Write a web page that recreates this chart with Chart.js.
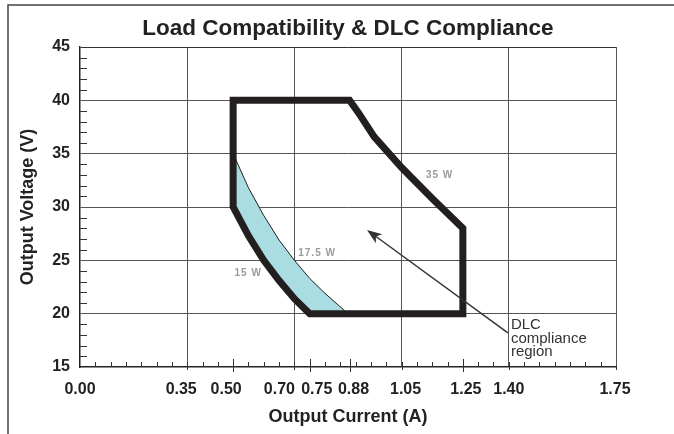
<!DOCTYPE html>
<html>
<head>
<meta charset="utf-8">
<script src="https://cdn.jsdelivr.net/npm/chart.js@4"></script>
<style>
  html, body { margin: 0; padding: 0; background: #fff; }
  canvas { display: block; }
</style>
</head>
<body>
<canvas id="loadChart" width="674" height="434"></canvas>
<script>
// operating window of the driver (thick outline), current in A / voltage in V
const envelopeCurrent = [0.70, 0.88, 0.91, 0.935, 0.96, 1.05, 1.15, 1.25, 1.25, 0.75, 0.70, 0.65, 0.60, 0.55, 0.50, 0.50, 0.70];
const envelopeVoltage = [40, 40, 38.8, 37.7, 36.6, 33.7, 30.8, 28, 20, 20, 21.4, 23.1, 25, 27.3, 30, 40, 40];

// DLC compliance band, between the 17.5 W and 15 W curves
const dlcCurrent = [0.50, 0.55, 0.60, 0.65, 0.70, 0.75, 0.80, 0.875, 0.75, 0.70, 0.65, 0.60, 0.55, 0.50];
const dlcVoltage = [35, 31.8, 29.2, 26.9, 25, 23.3, 21.9, 20, 20, 21.4, 23.1, 25, 27.3, 30];

// axis ticks
const xTicks = [0, 0.35, 0.50, 0.70, 0.75, 0.88, 1.05, 1.25, 1.40, 1.75];
const xGridTicks = [0.35, 0.70, 1.05, 1.40, 1.75];
const xMajorTicks = [0.50, 0.75, 0.88, 1.25];
const yTicks = [15, 20, 25, 30, 35, 40, 45];

// power curve labels
const wattLabels = ['35 W', '17.5 W', '15 W'];
const wattLabelCurrent = [1.174, 0.774, 0.549];
const wattLabelVoltage = [33.0, 25.7, 23.8];

// callout
const arrowFrom = [1.397, 18.2];
const arrowTo = [0.937, 27.85];
const noteLines = ['DLC', 'compliance', 'region'];

const FONT = '"Liberation Sans", Arial, Helvetica, sans-serif';
const xLabelNudge = [0, -6, -7, -15, 7, 4, 4, 3, 0, -1];

const toPoints = (xs, ys) => xs.map((x, i) => ({ x: x, y: ys[i] }));

const decorations = {
  id: 'decorations',
  beforeDraw(chart) {
    const ctx = chart.ctx;
    ctx.save();
    ctx.fillStyle = '#fff';
    ctx.fillRect(0, 0, chart.width, chart.height);
    // outer frame (top and left only)
    ctx.strokeStyle = '#444';
    ctx.lineWidth = 1.5;
    ctx.beginPath();
    ctx.moveTo(8, chart.height);
    ctx.lineTo(8, 5);
    ctx.lineTo(chart.width, 5);
    ctx.stroke();
    ctx.restore();
  },
  afterDatasetsDraw(chart) {
    const ctx = chart.ctx;
    const xs = chart.scales.x, ys = chart.scales.y;
    const area = chart.chartArea;
    ctx.save();

    // inward tick marks
    ctx.strokeStyle = '#333';
    ctx.lineWidth = 1;
    ctx.beginPath();
    for (let i = 1; i < 35; i++) {
      const px = Math.round(xs.getPixelForValue(i * 0.05)) + 0.5;
      ctx.moveTo(px, area.bottom);
      ctx.lineTo(px, area.bottom - 5);
    }
    xMajorTicks.forEach(v => {
      const px = Math.round(xs.getPixelForValue(v)) + 0.5;
      ctx.moveTo(px, area.bottom + 5);
      ctx.lineTo(px, area.bottom - 8);
    });
    xGridTicks.forEach(v => {
      const px = Math.round(xs.getPixelForValue(v)) + 0.5;
      ctx.moveTo(px, area.bottom);
      ctx.lineTo(px, area.bottom + 3);
    });
    for (let v = 16; v < 45; v++) {
      if (v % 5 === 0) continue;
      const py = Math.round(ys.getPixelForValue(v)) + 0.5;
      ctx.moveTo(area.left, py);
      ctx.lineTo(area.left + 7, py);
    }
    ctx.stroke();

    // x tick labels
    ctx.fillStyle = '#222';
    ctx.font = 'bold 16px ' + FONT;
    ctx.textAlign = 'center';
    ctx.textBaseline = 'alphabetic';
    xTicks.forEach((v, i) => {
      ctx.fillText(v.toFixed(2), xs.getPixelForValue(v) + xLabelNudge[i], 394);
    });

    // watt labels
    ctx.fillStyle = '#9a9a9a';
    ctx.font = 'bold 10px ' + FONT;
    ctx.letterSpacing = '1px';
    ctx.textBaseline = 'middle';
    wattLabels.forEach((t, i) => {
      ctx.fillText(t, xs.getPixelForValue(wattLabelCurrent[i]), ys.getPixelForValue(wattLabelVoltage[i]));
    });
    ctx.letterSpacing = '0px';

    // arrow
    const x1 = xs.getPixelForValue(arrowFrom[0]), y1 = ys.getPixelForValue(arrowFrom[1]);
    const x2 = xs.getPixelForValue(arrowTo[0]), y2 = ys.getPixelForValue(arrowTo[1]);
    const ang = Math.atan2(y2 - y1, x2 - x1);
    ctx.strokeStyle = '#333';
    ctx.fillStyle = '#333';
    ctx.lineWidth = 1.5;
    ctx.beginPath();
    ctx.moveTo(x1, y1);
    ctx.lineTo(x2 - Math.cos(ang) * 9, y2 - Math.sin(ang) * 9);
    ctx.stroke();
    ctx.save();
    ctx.translate(x2, y2);
    ctx.rotate(ang);
    ctx.beginPath();
    ctx.moveTo(0, 0);
    ctx.lineTo(-15, -5.5);
    ctx.lineTo(-11, 0);
    ctx.lineTo(-15, 5.5);
    ctx.closePath();
    ctx.fill();
    ctx.restore();

    // callout text
    ctx.fillStyle = '#333';
    ctx.font = '15px ' + FONT;
    ctx.textAlign = 'left';
    ctx.textBaseline = 'alphabetic';
    noteLines.forEach((t, i) => {
      ctx.fillText(t, x1 + 3, y1 - 3.5 + i * 13.5);
    });

    ctx.restore();
  }
};

const ctx = document.getElementById('loadChart').getContext('2d');
new Chart(ctx, {
  type: 'line',
  data: {
    datasets: [
      {
        label: 'Operating range',
        data: toPoints(envelopeCurrent, envelopeVoltage),
        borderColor: '#231f20',
        borderWidth: 7,
        borderJoinStyle: 'miter',
        fill: false,
        pointRadius: 0,
        tension: 0
      },
      {
        label: 'DLC compliance region',
        data: toPoints(dlcCurrent, dlcVoltage),
        borderColor: '#231f20',
        borderWidth: 1,
        backgroundColor: '#aadde2',
        fill: 'shape',
        pointRadius: 0,
        tension: 0
      }
    ]
  },
  options: {
    responsive: false,
    animation: false,
    events: [],
    layout: { padding: { top: 4, left: 8, right: 58, bottom: 0 } },
    plugins: {
      legend: { display: false },
      tooltip: { enabled: false },
      title: {
        display: true,
        fullSize: false,
        text: 'Load Compatibility & DLC Compliance',
        color: '#222',
        font: { family: FONT, size: 22.5, weight: 'bold' },
        padding: { top: 11, bottom: 5 }
      }
    },
    scales: {
      x: {
        type: 'linear',
        min: 0,
        max: 1.75,
        afterBuildTicks: s => { s.ticks = xTicks.map(v => ({ value: v })); },
        afterFit: s => { s.height = 67; },
        grid: {
          drawTicks: false,
          lineWidth: 1,
          color: c => (c.tick && xGridTicks.includes(c.tick.value)) ? '#555' : 'rgba(0,0,0,0)'
        },
        border: { color: '#222', width: 1.5 },
        ticks: { display: false },
        title: {
          display: true,
          text: 'Output Current (A)',
          color: '#222',
          font: { family: FONT, size: 18, weight: 'bold' },
          padding: { top: 0, bottom: 6 }
        }
      },
      y: {
        min: 15,
        max: 45,
        afterBuildTicks: s => { s.ticks = yTicks.map(v => ({ value: v })); },
        afterFit: s => { s.width = 72; },
        grid: {
          drawTicks: false,
          lineWidth: 1,
          color: c => {
            if (!c.tick || c.tick.value === 15) return 'rgba(0,0,0,0)';
            return c.tick.value === 45 ? '#333' : '#555';
          }
        },
        border: { color: '#222', width: 1.5 },
        ticks: {
          padding: 10,
          color: '#222',
          font: { family: FONT, size: 16, weight: 'bold' }
        },
        title: {
          display: true,
          text: 'Output Voltage (V)',
          color: '#222',
          font: { family: FONT, size: 18, weight: 'bold' },
          padding: { top: 9, bottom: 0 }
        }
      }
    }
  },
  plugins: [decorations]
});
</script>
</body>
</html>
